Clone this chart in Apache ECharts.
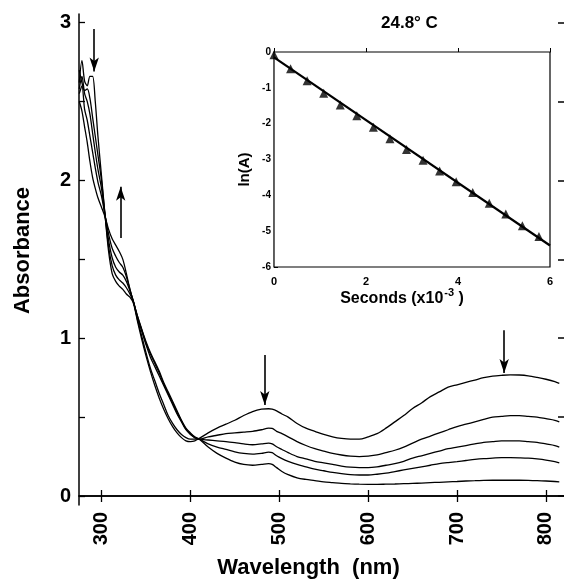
<!DOCTYPE html>
<html>
<head>
<meta charset="utf-8">
<script src="https://cdn.jsdelivr.net/npm/echarts@6/dist/echarts.min.js"></script>
<style>html,body{margin:0;padding:0;background:#fff}#c{width:564px;height:586px}</style>
</head>
<body>
<div id="c"></div>
<script>
// Wavelength grid (nm)
var wavelengths = [275,278,281,284,287,290,293,296,300,304,308,312,316,320,324,328,332,336,340,345,350,355,360,365,370,375,380,385,390,395,400,405,410,420,430,440,450,460,470,480,488,492,497,503,510,520,530,540,550,560,570,580,590,600,610,620,630,640,650,660,670,680,690,700,710,720,730,740,750,760,770,780,790,800,810,815];
// Spectra (absorbance), first (A) to last (E)
var specA = [2.62,2.76,2.63,2.60,2.66,2.66,2.50,2.28,2.03,1.78,1.55,1.41,1.36,1.33,1.31,1.28,1.26,1.22,1.12,1.00,0.89,0.79,0.70,0.62,0.55,0.49,0.44,0.40,0.37,0.35,0.345,0.35,0.365,0.40,0.43,0.455,0.48,0.51,0.535,0.55,0.553,0.55,0.54,0.52,0.50,0.46,0.43,0.41,0.39,0.375,0.365,0.36,0.36,0.375,0.395,0.43,0.47,0.51,0.555,0.59,0.63,0.66,0.69,0.705,0.72,0.735,0.75,0.76,0.765,0.768,0.767,0.762,0.752,0.74,0.725,0.714];
var specB = [2.70,2.62,2.57,2.58,2.52,2.40,2.28,2.16,2.00,1.78,1.58,1.46,1.40,1.37,1.35,1.32,1.28,1.23,1.13,1.02,0.91,0.81,0.73,0.65,0.58,0.51,0.46,0.42,0.39,0.37,0.36,0.36,0.36,0.375,0.385,0.395,0.40,0.405,0.41,0.42,0.43,0.428,0.41,0.395,0.375,0.345,0.32,0.30,0.285,0.27,0.26,0.253,0.25,0.253,0.26,0.275,0.29,0.31,0.335,0.36,0.38,0.40,0.42,0.44,0.455,0.47,0.485,0.50,0.505,0.51,0.51,0.505,0.50,0.49,0.48,0.47];
var specC = [2.58,2.66,2.55,2.50,2.42,2.30,2.18,2.07,1.95,1.78,1.62,1.51,1.45,1.42,1.40,1.36,1.30,1.23,1.14,1.05,0.96,0.88,0.82,0.76,0.70,0.64,0.58,0.52,0.47,0.42,0.39,0.37,0.36,0.355,0.35,0.345,0.338,0.33,0.325,0.33,0.335,0.33,0.312,0.295,0.275,0.25,0.235,0.22,0.21,0.20,0.19,0.183,0.18,0.18,0.185,0.195,0.205,0.22,0.24,0.255,0.27,0.285,0.30,0.31,0.32,0.33,0.34,0.345,0.35,0.35,0.35,0.345,0.34,0.33,0.32,0.31];
var specD = [2.55,2.60,2.45,2.38,2.28,2.18,2.08,1.99,1.90,1.78,1.66,1.57,1.52,1.48,1.45,1.39,1.31,1.23,1.15,1.06,0.97,0.90,0.84,0.78,0.71,0.65,0.59,0.53,0.475,0.425,0.395,0.37,0.36,0.33,0.31,0.295,0.28,0.27,0.265,0.27,0.278,0.275,0.255,0.237,0.22,0.20,0.185,0.17,0.16,0.15,0.142,0.135,0.133,0.133,0.138,0.145,0.155,0.165,0.175,0.185,0.195,0.205,0.212,0.218,0.225,0.232,0.237,0.24,0.243,0.243,0.242,0.24,0.235,0.228,0.218,0.21];
var specE = [2.50,2.44,2.34,2.24,2.12,2.02,1.95,1.89,1.83,1.77,1.69,1.63,1.59,1.55,1.50,1.41,1.31,1.23,1.15,1.06,0.98,0.91,0.85,0.79,0.72,0.66,0.60,0.54,0.48,0.43,0.40,0.375,0.36,0.31,0.27,0.24,0.215,0.20,0.195,0.20,0.205,0.20,0.18,0.155,0.135,0.115,0.105,0.098,0.09,0.085,0.08,0.077,0.075,0.074,0.074,0.075,0.076,0.078,0.08,0.082,0.085,0.087,0.09,0.092,0.095,0.097,0.099,0.10,0.10,0.10,0.10,0.099,0.097,0.095,0.092,0.09];
// Arrows: [wavelength, from absorbance, to absorbance]
var arrows = [[291.8,2.96,2.69],[321.6,1.635,1.96],[483.7,0.894,0.577],[753,1.05,0.78]];
// Main axis ticks
var xTicks = [300,400,500,600,700,800];
var yTicks = [0,0.5,1,1.5,2,2.5,3];
var yLabels = [0,1,2,3];
// Inset: kinetics
var insetTime = [0,0.36,0.72,1.08,1.44,1.8,2.16,2.52,2.88,3.24,3.6,3.96,4.32,4.68,5.04,5.4,5.76];
var insetLnA = [-0.08,-0.47,-0.8,-1.15,-1.48,-1.78,-2.1,-2.42,-2.72,-3.02,-3.32,-3.62,-3.92,-4.22,-4.52,-4.85,-5.15];
var fitTime = [0,6];
var fitLnA = [-0.15,-5.4];

var FONT = 'Liberation Sans, Arial, Helvetica, sans-serif';
function pairs(xs, ys){ return xs.map(function(x,i){return [x, ys[i]];}); }

var chart = echarts.init(document.getElementById('c'), null, {renderer:'canvas'});
var lineStyle = {color:'#000', width:1.3};
var specs = [specA, specB, specC, specD, specE];
var series = specs.map(function(s, i){
  var o = {type:'line', xAxisIndex:0, yAxisIndex:0, data:pairs(wavelengths, s), showSymbol:false, symbol:'none', smooth:0.3, lineStyle:lineStyle, silent:true, z:2};
  if (i === 0) {
    o.markLine = {silent:true, symbol:['none','arrow'], symbolSize:[7,14], label:{show:false},
      lineStyle:{color:'#000', width:1.6, type:'solid'},
      data: arrows.map(function(a){ return [{coord:[a[0],a[1]]},{coord:[a[0],a[2]]}]; })};
  }
  return o;
});
series.push({type:'line', xAxisIndex:2, yAxisIndex:2, data:pairs(fitTime, fitLnA), showSymbol:false, symbol:'none', lineStyle:{color:'#000', width:2.2}, z:5});
series.push({type:'scatter', xAxisIndex:2, yAxisIndex:2, data:pairs(insetTime, insetLnA), symbol:'triangle', symbolSize:9, itemStyle:{color:'#000'}, z:6});

var option = {
  animation:false,
  backgroundColor:'#fff',
  grid:[
    {left:79, top:14, width:488, height:491, show:false},
    {left:274, top:52, width:276, height:215, show:true, borderColor:'#000', borderWidth:1.2, backgroundColor:'#fff', z:4}
  ],
  xAxis:[
    {type:'value', gridIndex:0, min:274.7, max:820.3, position:'bottom',
      name:'Wavelength  (nm)', nameLocation:'middle', nameGap:52,
      nameTextStyle:{fontFamily:FONT, fontWeight:'bold', fontSize:22, color:'#000', padding:[0,26,0,0]},
      axisLine:{lineStyle:{color:'#000', width:1.5}},
      axisTick:{inside:true, length:6, customValues:xTicks, lineStyle:{color:'#000', width:1.3}},
      axisLabel:{customValues:xTicks, rotate:90, margin:7, fontFamily:FONT, fontWeight:'bold', fontSize:20, color:'#000'},
      splitLine:{show:false}},
    {type:'value', gridIndex:0, min:274.7, max:820.3, position:'top',
      axisLine:{lineStyle:{color:'#000', width:1.5}},
      axisTick:{inside:true, length:6, customValues:xTicks, lineStyle:{color:'#000', width:1.3}},
      axisLabel:{show:false}, splitLine:{show:false}},
    {type:'value', gridIndex:1, min:0, max:6, interval:2,
      name:'{a|Seconds (x10}{s|-3}{a| )}', nameLocation:'middle', nameGap:19,
      nameTextStyle:{rich:{a:{fontFamily:FONT, fontWeight:'bold', fontSize:16, color:'#000', verticalAlign:'bottom'}, s:{fontFamily:FONT, fontWeight:'bold', fontSize:11, color:'#000', verticalAlign:'bottom', padding:[0,0,8,1]}}, padding:[0,20,0,0]},
      axisLine:{lineStyle:{color:'#000', width:1.2}},
      axisTick:{inside:true, length:4, lineStyle:{color:'#000'}},
      axisLabel:{margin:9, fontFamily:FONT, fontWeight:'bold', fontSize:11, color:'#000'},
      splitLine:{show:false}}
  ],
  yAxis:[
    {type:'value', gridIndex:0, min:-0.057, max:3.055, position:'left',
      name:'Absorbance', nameLocation:'middle', nameGap:45, nameRotate:90,
      nameTextStyle:{fontFamily:FONT, fontWeight:'bold', fontSize:22, color:'#000', padding:[0,0,0,18]},
      axisLine:{lineStyle:{color:'#000', width:1.5}},
      axisTick:{inside:true, length:6, customValues:yTicks, lineStyle:{color:'#000', width:1.3}},
      axisLabel:{customValues:yLabels, margin:8, fontFamily:FONT, fontWeight:'bold', fontSize:20, color:'#000'},
      splitLine:{show:false}},
    {type:'value', gridIndex:0, min:-0.057, max:3.055, position:'right',
      axisLine:{show:false},
      axisTick:{inside:true, length:6, customValues:yTicks, lineStyle:{color:'#000', width:1.5}},
      axisLabel:{show:false}, splitLine:{show:false}},
    {type:'value', gridIndex:1, min:-6, max:0, interval:1,
      name:'ln(A)', nameLocation:'middle', nameGap:22, nameRotate:90,
      nameTextStyle:{fontFamily:FONT, fontWeight:'bold', fontSize:15, color:'#000', padding:[0,20,0,0]},
      axisLine:{lineStyle:{color:'#000', width:1.2}},
      axisTick:{inside:true, length:4, lineStyle:{color:'#000'}},
      minorTick:{show:true, splitNumber:2, length:3, lineStyle:{color:'#000'}},
      axisLabel:{margin:3, fontFamily:FONT, fontWeight:'bold', fontSize:10, color:'#000'},
      splitLine:{show:false}}
  ],
  graphic:[
    {type:'text', left:381, top:15, z:10, style:{text:'24.8° C', fontFamily:FONT, fontWeight:'bold', fontSize:17, fill:'#000'}}
  ],
  series: series
};
chart.setOption(option);
</script>
</body>
</html>
